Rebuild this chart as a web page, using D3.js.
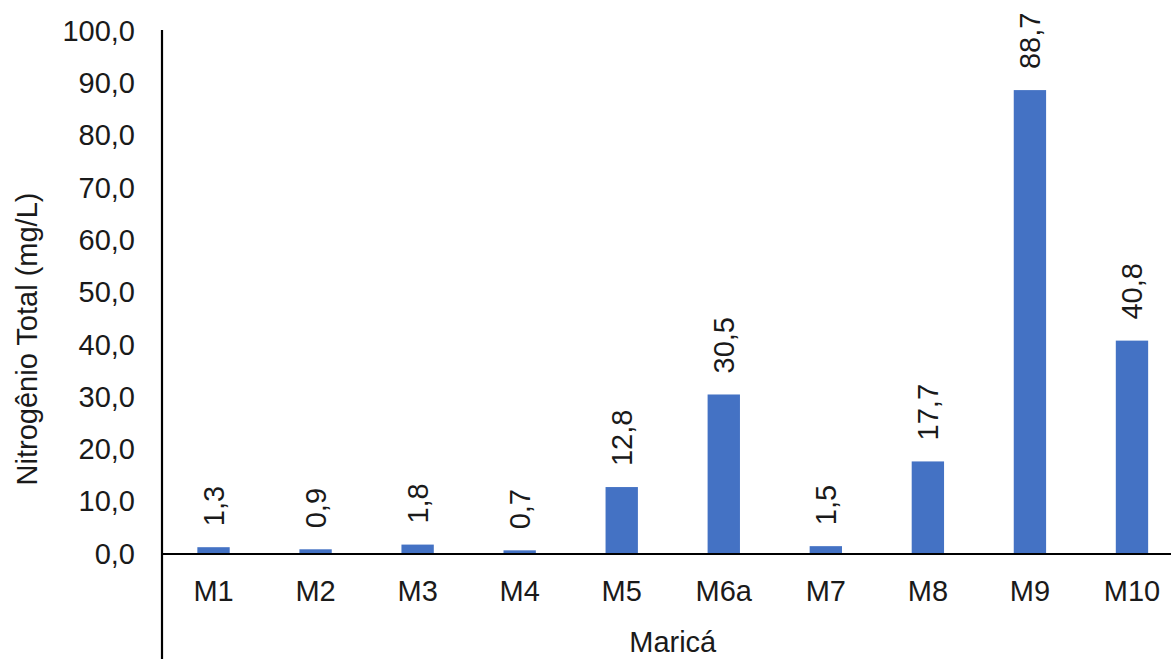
<!DOCTYPE html>
<html>
<head>
<meta charset="utf-8">
<script src="https://cdn.jsdelivr.net/npm/d3@7"></script>
<style>
  html, body { margin: 0; padding: 0; background: #fff; }
  svg { display: block; }
  text { font-family: "Liberation Sans", Arial, sans-serif; fill: #1a1a1a; }
</style>
</head>
<body>
<svg id="chart" width="1171" height="659"></svg>
<script>
const categories = ["M1", "M2", "M3", "M4", "M5", "M6a", "M7", "M8", "M9", "M10"];
const values = [1.3, 0.9, 1.8, 0.7, 12.8, 30.5, 1.5, 17.7, 88.7, 40.8];
const yTicks = [0, 10, 20, 30, 40, 50, 60, 70, 80, 90, 100];
const yTitle = "Nitrogênio Total (mg/L)";
const xTitle = "Maricá";

const svg = d3.select("#chart");
const fmt = v => d3.format(".1f")(v).replace(".", ",");

const x0 = 162.5, x1 = 1183, yBase = 554, yTop = 31;
const x = d3.scaleBand().domain(categories).range([x0, x1]).paddingInner(0.683).paddingOuter(0.3415);
const y = d3.scaleLinear().domain([0, 100]).range([yBase, yTop]);

// bars
svg.append("g").selectAll("rect").data(categories).join("rect")
  .attr("x", d => x(d))
  .attr("width", x.bandwidth())
  .attr("y", (d, i) => y(values[i]))
  .attr("height", (d, i) => y(0) - y(values[i]))
  .attr("fill", "#4472C4");

// value labels
svg.append("g").selectAll("text").data(categories).join("text")
  .attr("transform", (d, i) => `translate(${x(d) + x.bandwidth() / 2},${y(values[i]) - 21}) rotate(-90)`)
  .attr("dy", "0.35em")
  .attr("text-anchor", "start")
  .style("font-size", "29px")
  .text((d, i) => fmt(values[i]));

// y axis
const yAxis = d3.axisLeft(y).tickValues(yTicks).tickSize(0).tickPadding(27).tickFormat(fmt);
const gy = svg.append("g").attr("transform", `translate(${x0 - 0.5},0)`).call(yAxis);
gy.select(".domain").remove();
gy.selectAll("text").style("font-size", "29px").attr("fill", "#1a1a1a").style("font-family", "Liberation Sans, Arial, sans-serif");
svg.append("line").attr("x1", x0 - 0.5).attr("x2", x0 - 0.5).attr("y1", yTop - 1).attr("y2", 659)
  .attr("stroke", "#000").attr("stroke-width", 2.2);

// x axis
const xAxis = d3.axisBottom(x).tickSize(0).tickPadding(26);
const gx = svg.append("g").attr("transform", `translate(0,${yBase})`).call(xAxis);
gx.select(".domain").remove();
gx.selectAll("text").style("font-size", "29px").attr("fill", "#1a1a1a").style("font-family", "Liberation Sans, Arial, sans-serif");
svg.append("line").attr("x1", x0 - 1.5).attr("x2", 1171).attr("y1", yBase).attr("y2", yBase)
  .attr("stroke", "#000").attr("stroke-width", 2.2);

// titles
svg.append("text")
  .attr("x", (x0 + x1) / 2).attr("y", 652)
  .attr("text-anchor", "middle")
  .style("font-size", "29px")
  .text(xTitle);

svg.append("text")
  .attr("transform", `translate(37,339) rotate(-90)`)
  .attr("text-anchor", "middle")
  .style("font-size", "29px")
  .text(yTitle);
</script>
</body>
</html>
